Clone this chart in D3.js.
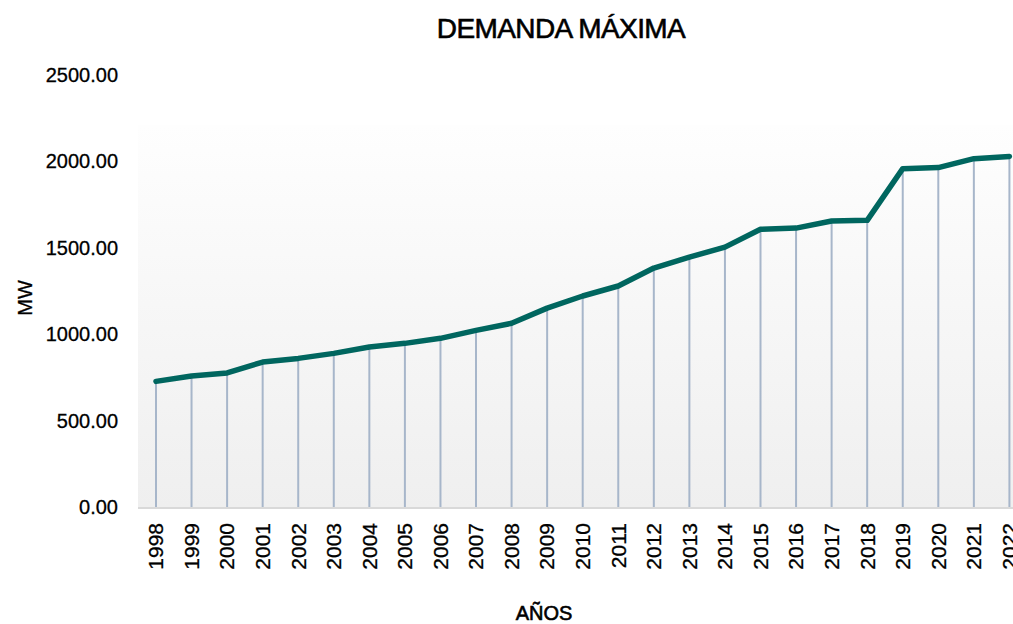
<!DOCTYPE html>
<html>
  <head>
    <meta charset="utf-8">
    <script src="https://d3js.org/d3.v7.min.js"></script>
    <style>
      body { margin: 0; background: #fff; }
      text { font-family: "Liberation Sans", Arial, sans-serif; fill: #000; stroke: #000; stroke-width: 0.3px; }
    </style>
  </head>
  <body>
    <div id="chart"></div>
    <script>
// data
var years = ["1998","1999","2000","2001","2002","2003","2004","2005","2006","2007","2008","2009",
  "2010","2011","2012","2013","2014","2015","2016","2017","2018","2019","2020","2021","2022"];
var demand = [727, 758, 776, 839, 860, 889, 926, 947, 976, 1022, 1063, 1151,
  1221, 1279, 1383, 1446, 1504, 1607, 1614, 1655, 1659, 1958, 1964, 2016, 2029];
var yTicks = [0, 500, 1000, 1500, 2000, 2500];

var width = 1013, height = 624;

var svg = d3.select("#chart").append("svg")
  .attr("width", width)
  .attr("height", height);

var x = d3.scaleBand().domain(years).range([138.2, 1027.2]);
var y = d3.scaleLinear().domain([0, 2500]).range([507, 75]);

// plot background gradient
var grad = svg.append("defs").append("linearGradient")
  .attr("id", "bg").attr("x1", 0).attr("x2", 0).attr("y1", 0).attr("y2", 1);
grad.append("stop").attr("offset", "0%").attr("stop-color", "#fefefe");
grad.append("stop").attr("offset", "100%").attr("stop-color", "#efefef");

svg.append("rect")
  .attr("x", 138).attr("y", 125)
  .attr("width", 1027 - 138).attr("height", 507 - 125)
  .attr("fill", "url(#bg)");

// drop lines
svg.selectAll(".drop")
  .data(demand)
  .enter().append("line")
  .attr("class", "drop")
  .attr("x1", function(d, i){ return x(years[i]) + x.bandwidth()/2; })
  .attr("x2", function(d, i){ return x(years[i]) + x.bandwidth()/2; })
  .attr("y1", function(d){ return y(d); })
  .attr("y2", y(0))
  .attr("stroke", "#a7b6ca")
  .attr("stroke-width", 2);

// x axis line
svg.append("line")
  .attr("x1", 138).attr("x2", 1013)
  .attr("y1", y(0) + 1).attr("y2", y(0) + 1)
  .attr("stroke", "#d9d9d9")
  .attr("stroke-width", 2);

// the series
var line = d3.line()
  .x(function(d, i){ return x(years[i]) + x.bandwidth()/2; })
  .y(function(d){ return y(d); });

svg.append("path")
  .datum(demand)
  .attr("d", line)
  .attr("fill", "none")
  .attr("stroke", "#00665f")
  .attr("stroke-width", 5.5)
  .attr("stroke-linejoin", "round")
  .attr("stroke-linecap", "round");

// y axis labels
var yAxis = svg.append("g")
  .attr("transform", "translate(124,0)")
  .call(d3.axisLeft(y).tickValues(yTicks).tickFormat(d3.format(".2f")).tickSize(0).tickPadding(6));
yAxis.select(".domain").remove();
yAxis.selectAll("text")
  .style("font-size", "20px")
  .style("font-family", "Liberation Sans, Arial, sans-serif")
  .attr("fill", "#000");

// x axis labels
var xAxis = svg.append("g")
  .attr("transform", "translate(0," + 523 + ")")
  .call(d3.axisBottom(x).tickSize(0).tickPadding(0));
xAxis.select(".domain").remove();
xAxis.selectAll("text")
  .style("font-size", "21px")
  .style("font-family", "Liberation Sans, Arial, sans-serif")
  .attr("fill", "#000")
  .attr("transform", "rotate(-90)")
  .attr("text-anchor", "end")
  .attr("x", 0)
  .attr("y", 0)
  .attr("dy", "0.35em");

// title and axis titles
svg.append("text")
  .attr("x", 561).attr("y", 38)
  .attr("text-anchor", "middle")
  .style("font-size", "28px")
  .style("letter-spacing", "-0.6px")
  .style("stroke-width", "0.6px")
  .text("DEMANDA MÁXIMA");

svg.append("text")
  .attr("transform", "translate(32,298) rotate(-90)")
  .attr("text-anchor", "middle")
  .style("font-size", "20px")
  .text("MW");

svg.append("text")
  .attr("x", 544).attr("y", 620)
  .attr("text-anchor", "middle")
  .style("font-size", "20px")
  .style("stroke-width", "0.6px")
  .text("AÑOS");
    </script>
  </body>
</html>
